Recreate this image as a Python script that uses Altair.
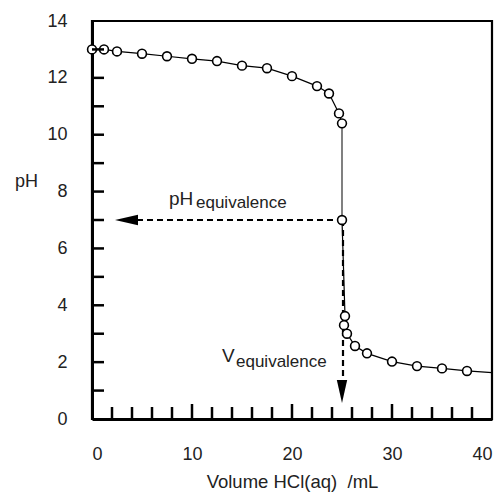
import altair as alt
import pandas as pd

# Titration data
volume = [0, 1.2, 2.5, 5, 7.5, 10, 12.5, 15, 17.5, 20, 22.5, 23.7, 24.7, 25.0,
          25.0, 25.3, 25.2, 25.5, 26.3, 27.5, 30, 32.5, 35, 37.5]
ph = [13.0, 13.0, 12.93, 12.85, 12.76, 12.67, 12.59, 12.43, 12.34, 12.06, 11.71,
      11.45, 10.75, 10.4, 7.0, 3.62, 3.3, 3.0, 2.57, 2.31, 2.02, 1.86, 1.78, 1.69]
line_end_volume = [40]
line_end_ph = [1.63]

x_labels = [0, 10, 20, 30, 40]
y_labels = [0, 2, 4, 6, 8, 10, 12, 14]
y_minor = list(range(1, 14))
x_minor = [2, 4, 6, 8, 12, 14, 16, 18, 22, 24, 26, 28, 32, 34, 36, 38]
x_major = [10, 20, 30]

eq_volume = 25.1
eq_ph = 7.0
h_arrow_tip = 2.3   # mL
v_arrow_tip = 0.56  # pH

FONT = "Liberation Sans"
TXT = "#222222"
W, H = 400, 398

xs = alt.Scale(domain=[0, 40], nice=False, zero=False)
ys = alt.Scale(domain=[0, 14], nice=False, zero=False)

pts = pd.DataFrame({"v": volume, "ph": ph})
line_df = pd.DataFrame({"v": volume + line_end_volume, "ph": ph + line_end_ph})

base_x = alt.X("v:Q", scale=xs, title="Volume HCl(aq)\u00a0\u00a0/mL",
               axis=alt.Axis(values=x_labels, ticks=False, grid=False,
                             domainColor="black", domainWidth=3,
                             labelFont=FONT, labelFontSize=18, labelColor=TXT,
                             labelPadding=26, titleFont=FONT, titleFontSize=18.5,
                             titleFontWeight="normal", titleColor=TXT, titlePadding=9))
base_y = alt.Y("ph:Q", scale=ys, title="pH",
               axis=alt.Axis(values=y_labels, ticks=False, grid=False,
                             domainColor="black", domainWidth=3,
                             labelFont=FONT, labelFontSize=18, labelColor=TXT,
                             labelPadding=25, titleFont=FONT, titleFontSize=18,
                             titleFontWeight="normal", titleColor=TXT, titleAngle=0,
                             titleAlign="center", titleBaseline="middle",
                             titleX=-66, titleY=160))

curve = alt.Chart(line_df).mark_line(color="black", strokeWidth=1.2).encode(
    x=base_x, y=base_y, order="index:Q"
).transform_window(index="row_number()")

# grey steep segment between the last high point and the equivalence point
steep = pd.DataFrame({"v": [volume[13]], "v2": [volume[14]], "y1": [ph[13]], "y2": [ph[14]]})
steep_rule = alt.Chart(steep).mark_rule(color="#888888", strokeWidth=1.6).encode(
    x=alt.X("v:Q", scale=xs), x2="v2:Q", y=alt.Y("y1:Q", scale=ys), y2="y2:Q")

# dashed arrows
h_line = pd.DataFrame({"x1": [eq_volume], "x2": [h_arrow_tip + 2.3], "y": [eq_ph]})
h_rule = alt.Chart(h_line).mark_rule(color="black", strokeWidth=2, strokeDash=[6, 4]).encode(
    x=alt.X("x1:Q", scale=xs), x2="x2:Q", y=alt.Y("y:Q", scale=ys))
v_line = pd.DataFrame({"x": [eq_volume], "y1": [eq_ph], "y2": [v_arrow_tip + 0.81]})
v_rule = alt.Chart(v_line).mark_rule(color="black", strokeWidth=2.2, strokeDash=[6, 4]).encode(
    x=alt.X("x:Q", scale=xs), y=alt.Y("y1:Q", scale=ys), y2="y2:Q")

h_head = alt.Chart(pd.DataFrame({"x": [h_arrow_tip + 1.15], "y": [eq_ph]})).mark_point(
    shape="M-1,0L1,-0.45L1,0.45Z", size=529, filled=True, color="black", opacity=1
).encode(x=alt.X("x:Q", scale=xs), y=alt.Y("y:Q", scale=ys))
v_head = alt.Chart(pd.DataFrame({"x": [eq_volume - 0.1], "y": [v_arrow_tip + 0.405]})).mark_point(
    shape="M0,1L-0.45,-1L0.45,-1Z", size=529, filled=True, color="black", opacity=1
).encode(x=alt.X("x:Q", scale=xs), y=alt.Y("y:Q", scale=ys))

markers = alt.Chart(pts).mark_point(
    shape="circle", size=78, filled=False, fill="white", fillOpacity=1,
    stroke="black", strokeWidth=1.6, opacity=1
).encode(x=alt.X("v:Q", scale=xs), y=alt.Y("ph:Q", scale=ys))

# annotation labels
lab_main = pd.DataFrame({"x": [7.7, 13.0], "y": [7.53, 2.0], "t": ["pH", "V"]})
lab_sub = pd.DataFrame({"x": [10.4, 14.4], "y": [7.42, 1.83], "t": ["equivalence", "equivalence"]})
t_main = alt.Chart(lab_main).mark_text(font=FONT, fontSize=19, color=TXT, align="left",
                                       baseline="alphabetic").encode(
    x=alt.X("x:Q", scale=xs), y=alt.Y("y:Q", scale=ys), text="t:N")
t_sub = alt.Chart(lab_sub).mark_text(font=FONT, fontSize=17, color=TXT, align="left",
                                     baseline="alphabetic").encode(
    x=alt.X("x:Q", scale=xs), y=alt.Y("y:Q", scale=ys), text="t:N")

# inward ticks
yt = alt.Chart(pd.DataFrame({"y": y_minor})).mark_rule(color="black", strokeWidth=2.5).encode(
    y=alt.Y("y:Q", scale=ys), x=alt.value(0), x2=alt.value(12))
xt_minor = alt.Chart(pd.DataFrame({"x": x_minor})).mark_rule(color="black", strokeWidth=2.5).encode(
    x=alt.X("x:Q", scale=xs), y=alt.value(H - 12), y2=alt.value(H))
xt_major = alt.Chart(pd.DataFrame({"x": x_major})).mark_rule(color="black", strokeWidth=2.5).encode(
    x=alt.X("x:Q", scale=xs), y=alt.value(H - 15), y2=alt.value(H))

chart = alt.layer(
    curve, steep_rule, h_rule, v_rule, h_head, v_head, markers, t_main, t_sub,
    yt, xt_minor, xt_major
).properties(
    width=W, height=H, autosize="none",
    padding={"left": 92, "top": 21, "right": 10, "bottom": 77},
    background="white"
).configure_view(stroke="black", strokeWidth=2.2)

chart.save("out.html", embed_options={"renderer": "svg", "actions": False})
